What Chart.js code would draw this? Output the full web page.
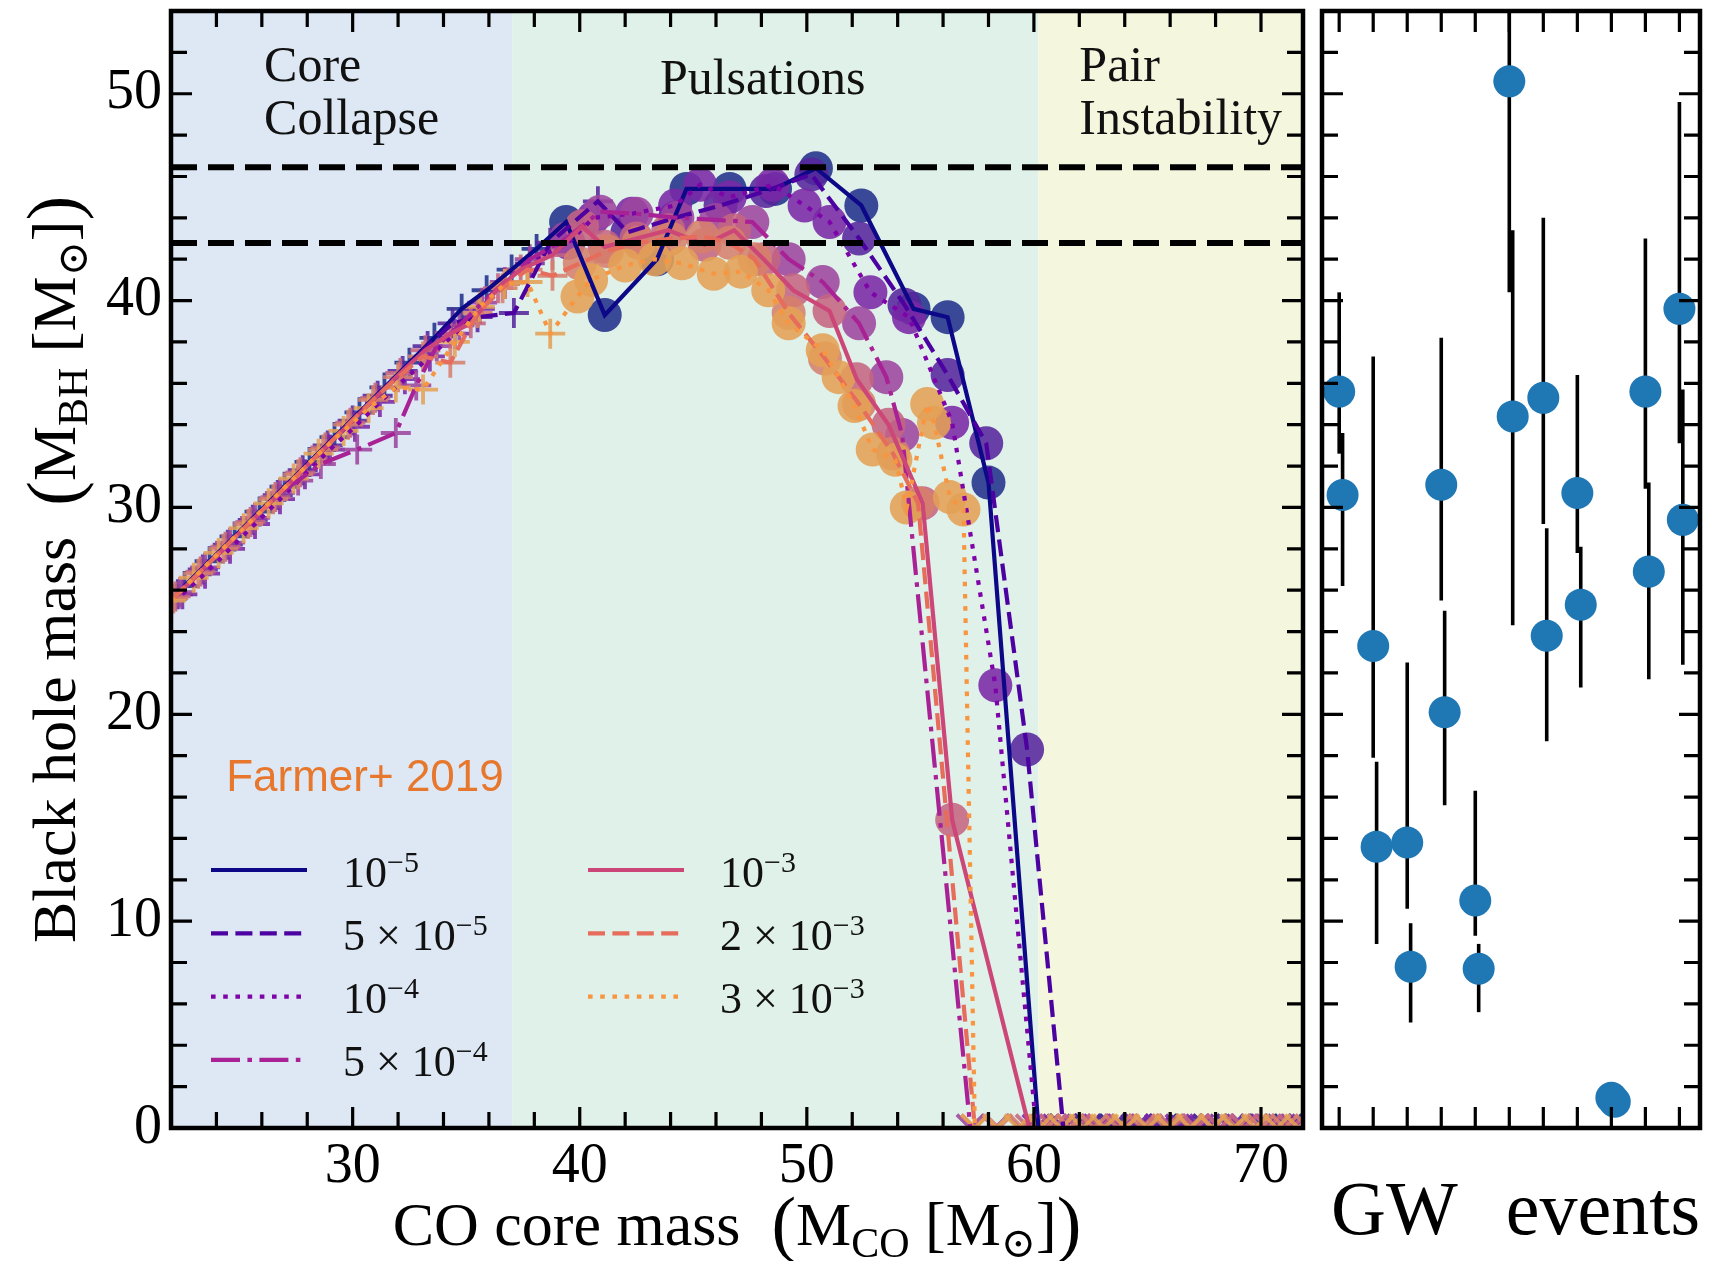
<!DOCTYPE html>
<html lang="en">
<head>
<meta charset="UTF-8">
<title>Black hole mass vs CO core mass</title>
<script src="https://cdn.jsdelivr.net/npm/chart.js"></script>
<style>
  html, body { margin: 0; padding: 0; background: #fff; }
  #wrap { position: relative; width: 1717px; height: 1261px; }
  canvas { position: absolute; left: 0; top: 0; }
</style>
</head>
<body>
<div id="wrap">
  <canvas id="mainChart" width="1717" height="1261"></canvas>
  <canvas id="gwChart" width="1717" height="1261"></canvas>
</div>
<script>
// ---- main panel: CO core mass (x) vs BH mass (y), one pair of arrays per series ----
const mco_1e5 = [22.6, 23.7, 24.8, 25.9, 27.0, 28.1, 29.2, 30.3, 31.4, 32.5, 33.6, 34.8, 35.9, 37.0, 38.1,
  39.4, 41.1, 43.4, 44.7, 46.6, 48.6, 50.4, 52.4, 54.7, 56.2, 58.0,
  60.2, 61.3, 62.4, 63.5, 64.6, 65.7, 66.8, 67.9, 69.0, 70.1, 71.2, 72.3];
const mbh_1e5 = [26.2, 27.4, 28.6, 29.8, 31.0, 32.2, 33.4, 34.6, 35.8, 37.0, 38.2, 39.6, 40.5, 41.5, 42.5,
  43.8, 39.3, 42.0, 45.4, 45.4, 45.4, 46.4, 44.6, 39.6, 39.2, 31.2,
  0, 0, 0, 0, 0, 0, 0, 0, 0, 0, 0, 0];

const mco_5e5 = [22.3, 23.4, 24.5, 25.6, 26.7, 27.8, 28.9, 30.0, 31.1, 32.2, 33.3, 34.4, 35.5, 37.1, 38.7, 40.8,
  42.1, 44.2, 46.2, 48.2, 50.2, 52.3, 54.3, 56.2, 57.9, 59.7,
  61.3, 62.35, 63.4, 64.45, 65.5, 66.55, 67.6, 68.65, 69.7, 70.75, 71.8];
const mbh_5e5 = [25.8, 27.0, 28.2, 29.4, 30.6, 31.8, 33.0, 34.2, 35.4, 36.6, 37.8, 38.9, 39.2, 39.4, 42.8, 44.8,
  43.3, 44.0, 44.6, 45.3, 46.1, 43.0, 39.8, 36.4, 33.1, 18.3,
  0, 0, 0, 0, 0, 0, 0, 0, 0, 0, 0];

const mco_1e4 = [22.5, 23.5, 24.6, 25.7, 26.8, 27.9, 29.0, 30.1, 31.2, 32.3, 33.4, 34.5, 35.6, 36.7, 37.8,
  39.5, 40.6, 42.3, 44.2, 45.3, 46.6, 48.5, 49.9, 51.0, 52.8, 54.5, 56.4, 58.3,
  60.1, 61.0, 61.9, 62.8, 63.7, 64.6, 65.5, 66.4, 67.3, 68.2, 69.1, 70.0, 70.9, 71.8];
const mbh_1e4 = [25.8, 26.8, 28.0, 29.2, 30.4, 31.6, 32.8, 33.9, 35.1, 36.2, 37.3, 38.4, 39.6, 40.8, 41.8,
  42.8, 44.0, 44.2, 44.6, 45.6, 45.0, 45.6, 44.6, 43.8, 40.4, 39.2, 34.1, 21.4,
  0, 0, 0, 0, 0, 0, 0, 0, 0, 0, 0, 0, 0, 0];

const mco_5e4 = [22.4, 23.5, 24.6, 25.7, 26.8, 27.6, 28.6, 30.2, 31.9, 32.8, 33.7, 34.7, 35.7, 36.7, 37.8,
  39.4, 40.9, 42.5, 44.3, 46.0, 47.6, 49.2, 50.7, 52.3, 53.5, 54.2,
  57.2, 58.3, 59.4, 60.5, 61.6, 62.7, 63.8, 64.9, 66.0, 67.1, 68.2, 69.3, 70.4, 71.5];
const mbh_5e4 = [25.9, 27.1, 28.3, 29.5, 30.7, 31.3, 32.1, 32.8, 33.6, 35.9, 37.8, 38.8, 39.9, 40.9, 42.0,
  43.0, 44.3, 44.2, 44.0, 43.9, 43.8, 42.0, 40.9, 38.9, 36.3, 33.5,
  0, 0, 0, 0, 0, 0, 0, 0, 0, 0, 0, 0, 0, 0];

const mco_1e3 = [22.2, 23.3, 24.4, 25.5, 26.6, 27.7, 28.8, 29.9, 31.0, 32.1, 33.2, 34.3, 35.2, 36.4, 37.4, 38.8,
  40.1, 41.1, 42.5, 43.9, 45.5, 46.8, 48.1, 49.4, 51.0, 52.2, 53.6, 55.1, 56.4,
  59.8, 60.85, 61.9, 62.95, 64.0, 65.05, 66.1, 67.15, 68.2, 69.25, 70.3, 71.35];
const mbh_1e3 = [25.7, 26.9, 28.1, 29.3, 30.5, 31.7, 32.9, 34.1, 35.3, 36.5, 37.6, 38.4, 38.9, 40.6, 41.5, 42.2,
  43.6, 42.6, 43.0, 43.4, 42.7, 43.4, 42.0, 40.5, 39.5, 36.2, 34.0, 30.2, 14.9,
  0, 0, 0, 0, 0, 0, 0, 0, 0, 0, 0, 0];

const mco_2e3 = [22.1, 23.2, 24.3, 25.4, 26.5, 27.6, 28.7, 29.8, 30.9, 32.0, 33.1, 34.3, 35.5, 36.6, 37.7, 38.8,
  40.0, 41.2, 42.6, 44.0, 45.4, 46.6, 47.7, 49.2, 50.8, 52.3, 53.8, 54.9,
  57.4, 58.45, 59.5, 60.55, 61.6, 62.65, 63.7, 64.75, 65.8, 66.85, 67.9, 68.95, 70.0, 71.05, 72.1];
const mbh_2e3 = [25.6, 26.8, 28.0, 29.2, 30.4, 31.6, 32.8, 34.0, 35.2, 36.3, 37.3, 37.0, 39.4, 40.6, 41.5, 41.2,
  41.8, 42.4, 42.8, 43.0, 43.1, 42.8, 42.0, 39.4, 37.2, 35.0, 32.6, 30.2,
  0, 0, 0, 0, 0, 0, 0, 0, 0, 0, 0, 0, 0, 0, 0];

const mco_3e3 = [22.0, 23.0, 24.1, 25.2, 26.3, 27.4, 28.5, 29.6, 30.7, 31.9, 33.1, 34.5, 35.6, 36.7, 37.7, 38.7,
  39.9, 40.5, 42.0, 43.3, 44.5, 45.9, 47.1, 48.3, 49.2, 50.7, 51.4, 52.1, 52.9, 53.9, 54.4, 55.3, 55.6, 56.3, 56.9,
  57.4, 58.35, 59.3, 60.25, 61.2, 62.15, 63.1, 64.05, 65.0, 65.95, 66.9, 67.85, 68.8, 69.75, 70.7, 71.65];
const mbh_3e3 = [25.5, 26.6, 27.8, 29.0, 30.2, 31.4, 32.6, 33.7, 34.8, 35.8, 35.7, 38.0, 39.7, 40.8, 40.9, 38.4,
  40.2, 41.0, 41.7, 42.0, 41.8, 41.3, 41.4, 40.5, 38.9, 37.6, 36.3, 34.9, 32.8, 32.3, 30.0, 35.0, 34.1, 30.5, 29.9,
  0, 0, 0, 0, 0, 0, 0, 0, 0, 0, 0, 0, 0, 0, 0, 0];

// number of leading core-collapse points (drawn as +) in each series
const coreCollapseCount = [15, 16, 15, 15, 16, 16, 16];
const labelCoef = ['', '5', '', '5', '', '2', '3'];
const labelExp = ['\u22125', '\u22125', '\u22124', '\u22124', '\u22123', '\u22123', '\u22123'];

// horizontal reference lines and shaded regimes
const gapLines = [46.45, 42.78];
const regionEdges = [22, 37.04, 60.2, 72];
const regionNames = [['Core', 'Collapse'], ['Pulsations'], ['Pair', 'Instability']];

// ---- right panel: GW events (primary / secondary masses with 90% ranges) ----
const gwEvents = ['GW150914', 'GW151012', 'GW151226', 'GW170104', 'GW170608', 'GW170729',
  'GW170809', 'GW170814', 'GW170817', 'GW170818', 'GW170823'];
const m1 = [35.6, 23.3, 13.8, 31.1, 11.0, 50.6, 35.3, 30.7, 1.46, 35.6, 39.6];
const m1Lo = [32.6, 17.9, 10.6, 25.5, 9.3, 40.4, 29.2, 27.8, 1.36, 30.9, 33.1];
const m1Hi = [40.4, 37.3, 22.5, 38.2, 16.3, 66.8, 44.0, 36.4, 1.58, 43.0, 49.6];
const m2 = [30.6, 13.6, 7.8, 20.1, 7.7, 34.4, 23.8, 25.3, 1.27, 26.9, 29.4];
const m2Lo = [26.2, 8.9, 5.1, 15.6, 5.6, 24.3, 18.7, 21.3, 1.18, 21.7, 22.4];
const m2Hi = [33.6, 17.7, 9.9, 25.0, 8.9, 43.4, 29.0, 28.1, 1.36, 31.2, 35.7];

// ---- styles ----
const seriesColors = ['#0d0887', '#4c02a1', '#7e03a8', '#a82296', '#cc4778', '#e66c5c', '#f89540'];
const markerColors = ['#22308c', '#55269c', '#7a28a6', '#9d459e', '#c56482', '#d6806c', '#e4a055'];
const dashPatterns = [[], [17, 7.4], [4.6, 7.6], [29, 7.4, 4.6, 7.4], [], [17, 7.4], [4.6, 7.6]];
const regionColors = ['#dde8f4', '#e0f1e9', '#f5f6de'];
const SERIF = '"Liberation Serif", "DejaVu Serif", serif';

const seriesX = [mco_1e5, mco_5e5, mco_1e4, mco_5e4, mco_1e3, mco_2e3, mco_3e3];
const seriesY = [mbh_1e5, mbh_5e5, mbh_1e4, mbh_5e4, mbh_1e3, mbh_2e3, mbh_3e3];

function rgba(hex, a) {
  const n = parseInt(hex.slice(1), 16);
  return `rgba(${n >> 16}, ${(n >> 8) & 255}, ${n & 255}, ${a})`;
}

function drawRuns(ctx, runs, x, y, align) {
  let w = 0;
  runs.forEach(r => { ctx.font = r[1]; w += ctx.measureText(r[0]).width; });
  let cx = align === 'center' ? x - w / 2 : x;
  runs.forEach(r => {
    ctx.font = r[1];
    ctx.fillText(r[0], cx, y + (r[2] || 0));
    cx += ctx.measureText(r[0]).width;
  });
}

function isMajor(v, step) {
  return Math.abs(v / step - Math.round(v / step)) < 1e-6;
}

// inward ticks on all four sides, frame and tick labels
const frameTicks = {
  id: 'frameTicks',
  afterDraw(chart, args, o) {
    const { ctx, chartArea: a, scales: { x, y } } = chart;
    ctx.save();
    ctx.strokeStyle = '#000';
    ctx.lineWidth = 3.2;
    ctx.beginPath();
    for (let k = 0; ; k++) {
      const v = o.xFrom + k * o.xStep;
      if (v > x.max + 1e-9) break;
      const px = x.getPixelForValue(v);
      const len = isMajor(v, o.xMajor) ? o.major : o.minor;
      ctx.moveTo(px, a.top); ctx.lineTo(px, a.top + len);
      ctx.moveTo(px, a.bottom); ctx.lineTo(px, a.bottom - len);
    }
    for (let k = 0; ; k++) {
      const v = o.yFrom + k * o.yStep;
      if (v > y.max + 1e-9) break;
      const py = y.getPixelForValue(v);
      const len = isMajor(v, o.yMajor) ? o.major : o.minor;
      ctx.moveTo(a.left, py); ctx.lineTo(a.left + len, py);
      ctx.moveTo(a.right, py); ctx.lineTo(a.right - len, py);
    }
    ctx.stroke();
    ctx.lineWidth = 4.5;
    ctx.strokeRect(a.left, a.top, a.right - a.left, a.bottom - a.top);

    ctx.fillStyle = '#000';
    ctx.font = `56px ${SERIF}`;
    ctx.textAlign = 'center';
    ctx.textBaseline = 'alphabetic';
    o.xLabels.forEach(v => ctx.fillText(String(v), x.getPixelForValue(v), a.bottom + 54));
    ctx.textAlign = 'right';
    ctx.textBaseline = 'middle';
    o.yLabels.forEach(v => ctx.fillText(String(v), a.left - 9, y.getPixelForValue(v)));
    ctx.restore();
  }
};

// shaded regimes with their names
const regimes = {
  id: 'regimes',
  beforeDatasetsDraw(chart) {
    const { ctx, chartArea: a, scales: { x, y } } = chart;
    ctx.save();
    for (let i = 0; i < regionColors.length; i++) {
      const x0 = Math.max(a.left, x.getPixelForValue(regionEdges[i]));
      const x1 = Math.min(a.right, x.getPixelForValue(regionEdges[i + 1]));
      ctx.fillStyle = regionColors[i];
      ctx.fillRect(x0, a.top, x1 - x0, a.bottom - a.top);
    }
    ctx.fillStyle = '#111';
    ctx.font = `50px ${SERIF}`;
    ctx.textAlign = 'left';
    ctx.textBaseline = 'alphabetic';
    const anchors = [[26.1, 50.6], [43.53, 49.97], [62.0, 50.6]];
    regionNames.forEach((lines, i) => {
      lines.forEach((t, j) => {
        ctx.fillText(t, x.getPixelForValue(anchors[i][0]), y.getPixelForValue(anchors[i][1]) + j * 53);
      });
    });
    ctx.restore();
  }
};

// axis titles, legend and annotation of the main panel
const mainText = {
  id: 'mainText',
  afterDraw(chart) {
    const { ctx, chartArea: a, scales: { x, y } } = chart;
    ctx.save();
    ctx.fillStyle = '#000';
    ctx.textAlign = 'left';
    ctx.textBaseline = 'alphabetic';
    const big = `62px ${SERIF}`, sub = `42px ${SERIF}`, par = `74px ${SERIF}`;
    drawRuns(ctx, [['CO core mass', big], ['  ', big], ['(', par, 3], ['M', big], ['CO', sub, 12],
      [' [', big], ['M', big], ['\u2299', sub, 12], [']', big], [')', par, 3]],
      (a.left + a.right) / 2, a.bottom + 117, 'center');

    ctx.save();
    ctx.translate(a.left - 96, (a.top + a.bottom) / 2);
    ctx.rotate(-Math.PI / 2);
    drawRuns(ctx, [['Black hole mass', big], ['  ', big], ['(', par, 3], ['M', big], ['BH', sub, 12],
      [' [', big], ['M', big], ['\u2299', sub, 12], [']', big], [')', par, 3]], 0, 0, 'center');
    ctx.restore();

    ctx.fillStyle = '#e8772e';
    ctx.font = '44px "Liberation Sans", Arial, sans-serif';
    ctx.fillText('Farmer+ 2019', x.getPixelForValue(24.43), y.getPixelForValue(16.3));

    seriesColors.forEach((c, i) => {
      const col = i < 4 ? 0 : 1, row = i < 4 ? i : i - 4;
      const ly = a.bottom - 258 + row * 63.3;
      const lx = a.left + 40 + col * 377;
      ctx.strokeStyle = c;
      ctx.lineWidth = 4.2;
      ctx.setLineDash(dashPatterns[i]);
      ctx.beginPath();
      ctx.moveTo(lx, ly);
      ctx.lineTo(lx + 96, ly);
      ctx.stroke();
      ctx.setLineDash([]);
      ctx.fillStyle = '#111';
      const runs = [];
      if (labelCoef[i]) runs.push([labelCoef[i] + ' \u00d7 ', `44px ${SERIF}`]);
      runs.push(['10', `44px ${SERIF}`]);
      runs.push([labelExp[i], `30px ${SERIF}`, -15]);
      drawRuns(ctx, runs, lx + 132, ly + 16.5, 'left');
    });
    ctx.restore();
  }
};

// ---- build main datasets ----
const mainDatasets = [];
seriesX.forEach((xs, i) => {
  const pts = xs.map((v, k) => ({ x: v, y: seriesY[i][k] }));
  const kind = pts.map((p, k) => p.y === 0 ? 'crossRot' : (k < coreCollapseCount[i] ? 'cross' : 'circle'));
  const faded = rgba(markerColors[i], 0.88);
  mainDatasets.push({
    data: pts,
    showLine: false,
    order: 30 - i,
    clip: 0,
    pointStyle: kind,
    pointRadius: kind.map(k => k === 'circle' ? 17 : (k === 'cross' ? 15 : 19)),
    pointBackgroundColor: faded,
    pointBorderColor: kind.map(k => k === 'circle' ? 'rgba(0,0,0,0)' : faded),
    pointBorderWidth: kind.map(k => k === 'circle' ? 0 : 3.8)
  });
  mainDatasets.push({
    data: pts,
    borderColor: seriesColors[i],
    borderWidth: 4.2,
    borderDash: dashPatterns[i],
    pointRadius: 0,
    tension: 0,
    fill: false,
    order: 20 - i,
    clip: 0
  });
});
gapLines.forEach(v => {
  mainDatasets.push({
    data: [{ x: regionEdges[0], y: v }, { x: regionEdges[regionEdges.length - 1], y: v }],
    borderColor: '#000',
    borderWidth: 6,
    borderDash: [26, 11],
    pointRadius: 0,
    order: 0,
    clip: 0
  });
});

new Chart(document.getElementById('mainChart'), {
  type: 'line',
  data: { datasets: mainDatasets },
  options: {
    responsive: false,
    animation: false,
    events: [],
    devicePixelRatio: 1,
    layout: { autoPadding: false, padding: { left: 171, right: 414, top: 11, bottom: 133 } },
    scales: {
      x: { type: 'linear', min: 22, max: 71.85, display: false },
      y: { type: 'linear', min: 0, max: 54, display: false }
    },
    plugins: {
      legend: { display: false },
      tooltip: { enabled: false },
      frameTicks: { xFrom: 22, xStep: 2, xMajor: 10, yFrom: 0, yStep: 2, yMajor: 10,
        major: 21, minor: 16, xLabels: [30, 40, 50, 60, 70], yLabels: [0, 10, 20, 30, 40, 50] }
    }
  },
  plugins: [regimes, frameTicks, mainText]
});

// ---- right panel ----
const gwDatasets = [];
gwEvents.forEach((name, i) => {
  gwDatasets.push({
    data: [{ x: i, y: m1Lo[i] }, { x: i, y: m1Hi[i] }],
    borderColor: '#000', borderWidth: 3.6, pointRadius: 0, order: 2, clip: 0
  });
  gwDatasets.push({
    data: [{ x: i + 0.1, y: m2Lo[i] }, { x: i + 0.1, y: m2Hi[i] }],
    borderColor: '#000', borderWidth: 3.6, pointRadius: 0, order: 2, clip: 0
  });
});
gwDatasets.push({
  data: gwEvents.map((n, i) => ({ x: i, y: m1[i] })).concat(gwEvents.map((n, i) => ({ x: i + 0.1, y: m2[i] }))),
  showLine: false,
  pointRadius: 16,
  pointBackgroundColor: '#1f77b4',
  pointBorderWidth: 0,
  order: 1,
  clip: 0
});

const gwText = {
  id: 'gwText',
  afterDraw(chart) {
    const { ctx, chartArea: a } = chart;
    ctx.save();
    ctx.fillStyle = '#000';
    ctx.font = `76px ${SERIF}`;
    ctx.textBaseline = 'alphabetic';
    ctx.textAlign = 'left';
    ctx.fillText('GW', a.left + 9, a.bottom + 106);
    ctx.textAlign = 'right';
    ctx.fillText('events', a.right, a.bottom + 106);
    ctx.restore();
  }
};

new Chart(document.getElementById('gwChart'), {
  type: 'line',
  data: { datasets: gwDatasets },
  options: {
    responsive: false,
    animation: false,
    events: [],
    devicePixelRatio: 1,
    layout: { autoPadding: false, padding: { left: 1322, right: 17, top: 11, bottom: 133 } },
    scales: {
      x: { type: 'linear', min: -0.505, max: 10.605, display: false },
      y: { type: 'linear', min: 0, max: 54, display: false }
    },
    plugins: {
      legend: { display: false },
      tooltip: { enabled: false },
      frameTicks: { xFrom: 0, xStep: 1, xMajor: 1, yFrom: 0, yStep: 2, yMajor: 10,
        major: 21, minor: 16, xLabels: [], yLabels: [] }
    }
  },
  plugins: [frameTicks, gwText]
});
</script>
</body>
</html>
